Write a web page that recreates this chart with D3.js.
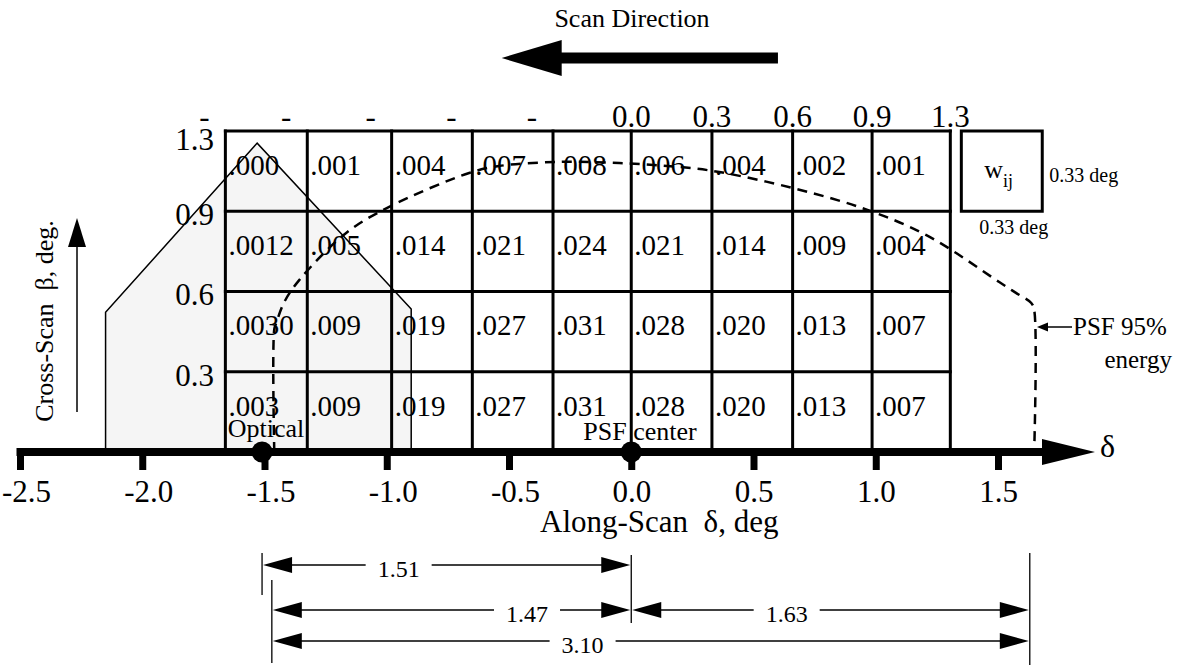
<!DOCTYPE html>
<html>
<head>
<meta charset="utf-8">
<script src="https://cdn.jsdelivr.net/npm/d3@7"></script>
<style>
  body { margin: 0; background: #fff; }
  svg { display: block; }
  text { font-family: "Liberation Serif", "Times New Roman", serif; fill: #000; white-space: pre; }
</style>
</head>
<body>
<div id="chart"></div>
<script>
// dades llegides de la figura
let xTicks = [-2.5, -2.0, -1.5, -1.0, -0.5, 0.0, 0.5, 1.0, 1.5]
let xTickLabels = ['-2.5', '-2.0', '-1.5', '-1.0', '-0.5', '0.0', '0.5', '1.0', '1.5']
let colEdges = [-1.66, -1.325, -0.98, -0.65, -0.32, 0, 0.33, 0.66, 0.985, 1.305]
let topLabels = ['-', '-', '-', '-', '-', '0.0', '0.3', '0.6', '0.9', '1.3']
let rowEdges = [1.333, 1.0, 0.667, 0.333, 0]
let yTickLabels = ['1.3', '0.9', '0.6', '0.3']
// pesos w_ij, files de dalt a baix
let weights = [
  ['.000', '.001', '.004', '.007', '.008', '.006', '.004', '.002', '.001'],
  ['.0012', '.005', '.014', '.021', '.024', '.021', '.014', '.009', '.004'],
  ['.0030', '.009', '.019', '.027', '.031', '.028', '.020', '.013', '.007'],
  ['.003', '.009', '.019', '.027', '.031', '.028', '.020', '.013', '.007']
]
// contorn PSF 95% energia (delta, beta)
let psfCurve = [
  [-1.46, 0], [-1.46, 0.51], [-1.452, 0.536], [-1.419, 0.623], [-1.358, 0.714],
  [-1.166, 0.910], [-0.99, 1.018], [-0.663, 1.159], [-0.54, 1.188], [-0.294, 1.205],
  [-0.049, 1.200], [0.196, 1.184], [0.36, 1.163], [0.658, 1.097], [0.945, 1.013],
  [1.207, 0.901], [1.505, 0.706], [1.575, 0.660], [1.636, 0.619], [1.648, 0.59], [1.648, 0]
]
// camp optic
let opticalShape = [[-2.15, 0], [-2.15, 0.58], [-1.53, 1.283], [-0.90, 0.594], [-0.90, 0]]
let opticalCenter = -1.51
let psfCenter = 0
let dimLabels = ['1.51', '1.47', '1.63', '3.10']
let dimFrom = [-1.51, -1.47, 0, -1.47]
let dimTo = [0, 0, 1.63, 1.63]

let amplada = 1182
let alcada = 667
let fontSerif = '"Liberation Serif", "Times New Roman", serif'

let svg = d3.select('#chart')
  .append('svg')
  .attr('width', amplada)
  .attr('height', alcada)
  .attr('font-family', fontSerif)

svg.append('rect').attr('width', amplada).attr('height', alcada).attr('fill', '#fff')

let x = d3.scaleLinear().domain([-2.5, 1.5]).range([20, 998])
let y = d3.scaleLinear().domain([0, 4 / 3]).range([452, 131])

function triangle(tipX, tipY, dir, len, half) {
  // dir: 'l', 'r', 'u'
  if (dir === 'l') return `M${tipX},${tipY}L${tipX + len},${tipY - half}L${tipX + len},${tipY + half}Z`
  if (dir === 'r') return `M${tipX},${tipY}L${tipX - len},${tipY - half}L${tipX - len},${tipY + half}Z`
  return `M${tipX},${tipY}L${tipX - half},${tipY + len}L${tipX + half},${tipY + len}Z`
}

// títol i fletxa de direcció d'escaneig
svg.append('text')
  .attr('x', 632).attr('y', 27)
  .attr('text-anchor', 'middle')
  .attr('font-size', 26)
  .text('Scan Direction')

svg.append('rect')
  .attr('x', x(-0.29)).attr('y', 52.5)
  .attr('width', x(0.6) - x(-0.29)).attr('height', 11)
svg.append('path').attr('d', triangle(x(-0.53), 58, 'l', 60, 18))

// camp òptic (ombrejat)
let line = d3.line().x(d => x(d[0])).y(d => y(d[1]))
svg.append('path')
  .attr('d', line(opticalShape))
  .attr('fill', '#f5f5f5')
  .attr('stroke', 'none')

// graella
let gGrid = svg.append('g').attr('stroke', '#000').attr('stroke-width', 3)
gGrid.selectAll('.v')
  .data(colEdges)
  .enter()
  .append('line')
  .attr('x1', d => x(d)).attr('x2', d => x(d))
  .attr('y1', y(rowEdges[0]) - 1.5).attr('y2', y(0))
gGrid.selectAll('.h')
  .data(rowEdges.slice(0, 4))
  .enter()
  .append('line')
  .attr('x1', x(colEdges[0]) - 1.5).attr('x2', x(colEdges[colEdges.length - 1]) + 1.5)
  .attr('y1', d => y(d)).attr('y2', d => y(d))

// contorn del camp òptic
svg.append('path')
  .attr('d', line(opticalShape))
  .attr('fill', 'none')
  .attr('stroke', '#000')
  .attr('stroke-width', 1.5)

// valors de les cel·les
weights.forEach((fila, i) => {
  svg.selectAll('.w' + i)
    .data(fila)
    .enter()
    .append('text')
    .attr('x', (d, j) => x(colEdges[j]) + 3)
    .attr('y', y(rowEdges[i]) + 44)
    .attr('font-size', 29)
    .text(d => d)
})

// etiquetes superiors
svg.selectAll('.top')
  .data(topLabels)
  .enter()
  .append('text')
  .attr('x', (d, i) => d === '-' ? x(colEdges[i]) - 21 : x(colEdges[i]))
  .attr('y', 127)
  .attr('text-anchor', 'middle')
  .attr('font-size', 31)
  .text(d => d)

// eix vertical: etiquetes
svg.selectAll('.ytick')
  .data(yTickLabels)
  .enter()
  .append('text')
  .attr('x', 214)
  .attr('y', (d, i) => y(rowEdges[i]) + (i === 0 ? 19 : 14))
  .attr('text-anchor', 'end')
  .attr('font-size', 31)
  .text(d => d)

svg.append('text')
  .attr('transform', 'translate(53,321) rotate(-90)')
  .attr('text-anchor', 'middle')
  .attr('font-size', 26)
  .text('Cross-Scan\u00A0\u00A0\u03B2, deg.')
svg.append('line')
  .attr('x1', 77).attr('x2', 77).attr('y1', 412).attr('y2', 245)
  .attr('stroke', '#000').attr('stroke-width', 1.5)
svg.append('path').attr('d', triangle(77, 218, 'u', 29, 9))

// contorn PSF 95% (discontinu)
svg.append('path')
  .attr('d', d3.line().x(d => x(d[0])).y(d => y(d[1])).curve(d3.curveCatmullRom.alpha(0.5))(psfCurve))
  .attr('fill', 'none')
  .attr('stroke', '#000')
  .attr('stroke-width', 2.5)
  .attr('stroke-dasharray', '10,7')

// eix horitzontal
svg.append('line')
  .attr('x1', x(-2.5) - 3.5).attr('x2', 1044)
  .attr('y1', 452).attr('y2', 452)
  .attr('stroke', '#000').attr('stroke-width', 8)
svg.append('path').attr('d', triangle(1095, 452, 'r', 53, 13))

let xAxis = d3.axisBottom(x)
  .tickValues(xTicks)
  .tickFormat((d, i) => xTickLabels[i])
  .tickSize(18)
  .tickPadding(10)
let gx = svg.append('g')
  .attr('transform', 'translate(0,452)')
  .call(xAxis)
gx.select('.domain').remove()
gx.selectAll('.tick line').attr('stroke', '#000').attr('stroke-width', 7)
gx.selectAll('.tick text')
  .attr('font-family', fontSerif)
  .attr('font-size', 31)
  .attr('fill', '#000')
  .attr('dx', (d) => d < 0 ? 6 : 0)

svg.append('text')
  .attr('x', 1100).attr('y', 457)
  .attr('font-size', 32)
  .text('\u03B4')

svg.append('text')
  .attr('x', 540).attr('y', 532)
  .attr('font-size', 31)
  .text('Along-Scan\u00A0\u00A0\u03B4, deg')

// punts: centre òptic i centre PSF
svg.selectAll('.dot')
  .data([opticalCenter, psfCenter])
  .enter()
  .append('circle')
  .attr('cx', d => x(d))
  .attr('cy', 452)
  .attr('r', 10.5)
  .attr('fill', '#000')

svg.append('text')
  .attr('x', x(opticalCenter) + 4).attr('y', 437)
  .attr('text-anchor', 'middle')
  .attr('font-size', 26)
  .text('Optical')
svg.append('text')
  .attr('x', x(psfCenter) - 48).attr('y', 440)
  .attr('font-size', 26)
  .text('PSF center')

// etiqueta PSF 95%
svg.append('line')
  .attr('x1', 1047).attr('x2', 1072).attr('y1', 327).attr('y2', 327)
  .attr('stroke', '#000').attr('stroke-width', 1.5)
svg.append('path').attr('d', triangle(1037, 327, 'l', 11, 4.5))
svg.append('text').attr('x', 1073).attr('y', 335).attr('font-size', 25).text('PSF 95%')
svg.append('text').attr('x', 1172).attr('y', 368).attr('text-anchor', 'end').attr('font-size', 25).text('energy')

// quadre w_ij
svg.append('rect')
  .attr('x', x(1.35)).attr('y', y(4 / 3))
  .attr('width', x(1.681) - x(1.35)).attr('height', y(1) - y(4 / 3))
  .attr('fill', 'none').attr('stroke', '#000').attr('stroke-width', 3)
let wt = svg.append('text').attr('x', x(1.35) + 23).attr('y', 178).attr('font-size', 26)
wt.append('tspan').text('w')
wt.append('tspan').attr('font-size', 18).attr('dy', 9).text('ij')
svg.append('text').attr('x', x(1.681) + 7).attr('y', 182).attr('font-size', 20).text('0.33 deg')
svg.append('text').attr('x', x(1.35) + 18).attr('y', 234).attr('font-size', 20).text('0.33 deg')

// cotes
let extLines = [[opticalCenter, 553, 595], [psfCenter, 555, 623], [-1.47, 580, 663], [1.63, 553, 665]]
svg.selectAll('.ext')
  .data(extLines)
  .enter()
  .append('line')
  .attr('x1', d => x(d[0])).attr('x2', d => x(d[0]))
  .attr('y1', d => d[1]).attr('y2', d => d[2])
  .attr('stroke', '#000').attr('stroke-width', 1.3)

let dimY = [565, 610, 610, 641]
let dimPos = [0.37, 0.71, 0.39, 0.41]
dimLabels.forEach((lab, i) => {
  let x0 = x(dimFrom[i])
  let x1 = x(dimTo[i])
  let cx = x0 + (x1 - x0) * dimPos[i]
  let t = svg.append('text')
    .attr('x', cx).attr('y', dimY[i] + 12)
    .attr('text-anchor', 'middle')
    .attr('font-size', 24)
    .text(lab)
  let w = t.node().getComputedTextLength()
  let g = svg.append('g').attr('stroke', '#000').attr('stroke-width', 1.3)
  g.append('line').attr('x1', x0 + 28).attr('x2', cx - w / 2 - 12).attr('y1', dimY[i]).attr('y2', dimY[i])
  g.append('line').attr('x1', cx + w / 2 + 12).attr('x2', x1 - 28).attr('y1', dimY[i]).attr('y2', dimY[i])
  svg.append('path').attr('d', triangle(x0 + 1, dimY[i], 'l', 29, 8))
  svg.append('path').attr('d', triangle(x1 - 1, dimY[i], 'r', 29, 8))
})
</script>
</body>
</html>
